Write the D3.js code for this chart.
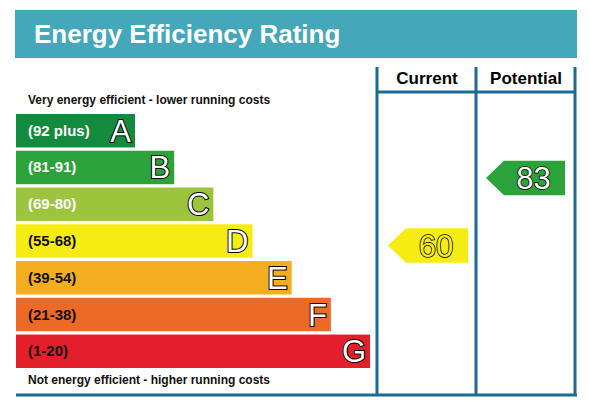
<!DOCTYPE html><html><head><meta charset="utf-8"><script src="https://d3js.org/d3.v7.min.js"></script>
<style>body{margin:0;background:#fff}</style></head><body><svg id="c" width="590" height="408"></svg>
<script>
const bands=["A","B","C","D","E","F","G"];
const ranges=["(92 plus)","(81-91)","(69-80)","(55-68)","(39-54)","(21-38)","(1-20)"];
const colors=["#138a3e","#2ca23a","#9cc53d","#f6ec13","#f3ad1f","#ec6a25","#e21f2a"];
const widthSteps=[1,2,3,4,5,6,7];
const current=[60];const currentBand=["D"];const currentColor=["#f6ec13"];
const potential=[83];const potentialBand=["B"];const potentialColor=["#2ca23a"];
const svg=d3.select("#c");const F="Liberation Sans, Arial, sans-serif";
svg.append("rect").attr("x",15).attr("y",10).attr("width",562).attr("height",48).attr("fill","#45a8ba");
svg.append("text").attr("x",34).attr("y",43).attr("fill","#fff").attr("font-family",F).attr("font-weight","bold").attr("font-size",26).text("Energy Efficiency Rating");
const y=d3.scaleBand().domain(bands).range([114,368]).paddingInner(0.09);
const x=d3.scaleLinear().domain([1,7]).range([135,370]);
const g=svg.selectAll("g.b").data(bands).enter().append("g");
g.append("rect").attr("x",16).attr("y",d=>y(d)).attr("height",y.bandwidth()).attr("width",(d,i)=>x(widthSteps[i])-16).attr("fill",(d,i)=>colors[i]);
g.append("text").attr("x",28).attr("y",d=>y(d)+y.bandwidth()/2+5).attr("font-family",F).attr("font-weight","bold").attr("font-size",15).attr("fill",(d,i)=>i<3?"#fff":"#111").text((d,i)=>ranges[i]);
g.append("text").attr("x",(d,i)=>x(widthSteps[i])-4).attr("text-anchor","end").attr("y",d=>y(d)+y.bandwidth()/2+11).attr("font-family",F).attr("font-size",31).attr("fill","#fff").attr("stroke","#000").attr("stroke-width",2).attr("paint-order","stroke").text(d=>d);
svg.append("text").attr("x",28).attr("y",104).attr("font-family",F).attr("font-weight","bold").attr("font-size",12).attr("fill","#111").text("Very energy efficient - lower running costs");
svg.append("text").attr("x",28).attr("y",384).attr("font-family",F).attr("font-weight","bold").attr("font-size",12).attr("fill","#111").text("Not energy efficient - higher running costs");
const lc="#1b6b93";
[377,476,575].forEach(v=>svg.append("line").attr("x1",v).attr("x2",v).attr("y1",67).attr("y2",396).attr("stroke",lc).attr("stroke-width",3));
svg.append("line").attr("x1",377).attr("x2",576).attr("y1",92).attr("y2",92).attr("stroke",lc).attr("stroke-width",3);
svg.append("line").attr("x1",16).attr("x2",577).attr("y1",395).attr("y2",395).attr("stroke",lc).attr("stroke-width",3);
svg.append("text").attr("x",427).attr("y",84).attr("text-anchor","middle").attr("font-family",F).attr("font-weight","bold").attr("font-size",17).text("Current");
svg.append("text").attr("x",526).attr("y",84).attr("text-anchor","middle").attr("font-family",F).attr("font-weight","bold").attr("font-size",17).text("Potential");
function arrow(x0,x1,band,val,col,off){const t=y(band)+off,h=y.bandwidth()+1,tip=18;
 svg.append("path").attr("d",`M${x0},${t+h/2}L${x0+tip},${t}L${x1},${t}L${x1},${t+h}L${x0+tip},${t+h}Z`).attr("fill",col);
 svg.append("text").attr("x",(x0+x1)/2+8).attr("y",t+h/2+11).attr("text-anchor","middle").attr("font-family",F).attr("font-size",31).attr("fill",band=="D"?"#f6ec13":"#fff").attr("stroke","#000").attr("stroke-width",1.6).attr("paint-order","stroke").text(val);}
arrow(388,468,currentBand[0],current[0],currentColor[0],4);
arrow(486,565,potentialBand[0],potential[0],potentialColor[0],10);
</script></body></html>
